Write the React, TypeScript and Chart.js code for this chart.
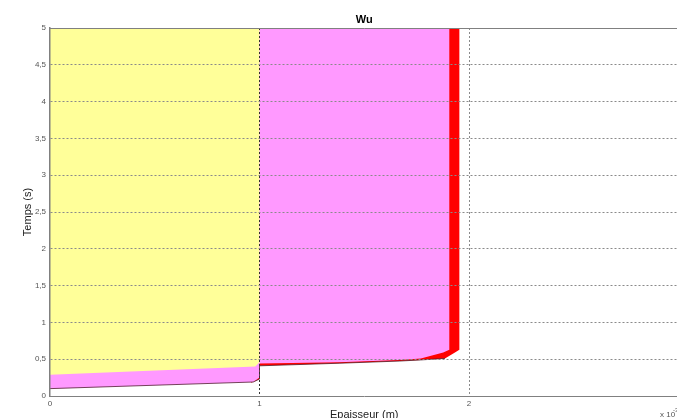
import React, { useEffect, useRef } from 'react';
import { Chart, registerables } from 'chart.js';

Chart.register(...registerables);

// ---- Data (x in 1e-3 m, y in s) ----
const yellowX = [0, 0, 0.98, 1.0, 1.0];
const yellowY = [5, 0.29, 0.40, 0.46, 5];

const pinkX = [0, 0, 0.97, 1.0, 1.0, 1.38, 1.67, 1.77, 1.877, 1.906, 1.906];
const pinkY = [5, 0.10, 0.19, 0.25, 0.44, 0.46, 0.49, 0.51, 0.59, 0.63, 5];

const redX = [0.96, 1.0, 1.0, 1.38, 1.67, 1.77, 1.885, 1.933, 1.954, 1.954, 0.96];
const redY = [0.18, 0.23, 0.41, 0.445, 0.475, 0.49, 0.51, 0.59, 0.63, 5, 5];

const edgeX = [0, 0.97, 1.0, 1.0, 1.38, 1.67, 1.77, 1.885];
const edgeY = [0.10, 0.19, 0.23, 0.41, 0.445, 0.475, 0.49, 0.51];

const xTickValues = [0, 1, 2, 3];
const xTickLabels = ['0', '1', '2', ''];
const yTickValues = [0, 0.5, 1, 1.5, 2, 2.5, 3, 3.5, 4, 4.5, 5];
const yTickLabels = ['0', '0,5', '1', '1,5', '2', '2,5', '3', '3,5', '4', '4,5', '5'];

const titleText = 'Wu';
const xTitle = 'Epaisseur (m)';
const yTitle = 'Temps (s)';
const expBase = 'x 10';
const expPower = '-3';

const FONT = "'Liberation Sans', Arial, Helvetica, sans-serif";

function pts(xs: number[], ys: number[]) {
  return xs.map((x, i) => ({ x, y: ys[i] }));
}

const expPlugin = {
  id: 'expLabel',
  afterDraw(chart: any) {
    const ctx = chart.ctx;
    ctx.save();
    ctx.fillStyle = '#555';
    ctx.textBaseline = 'middle';
    ctx.textAlign = 'left';
    ctx.font = `8px ${FONT}`;
    ctx.fillText(expBase, 660, 415);
    ctx.font = `6px ${FONT}`;
    ctx.fillText(expPower, 673, 410);
    ctx.restore();
  },
};

export default function App() {
  const ref = useRef<HTMLCanvasElement>(null);

  useEffect(() => {
    const canvas = ref.current!;
    const gridColor = '#8a8a8a';
    const axisColor = '#808080';
    const chart = new Chart(canvas, {
      type: 'line',
      data: {
        datasets: [
          {
            label: 'edge',
            data: pts(edgeX, edgeY),
            borderColor: 'rgba(70,20,35,0.75)',
            borderWidth: 1,
            pointRadius: 0,
            fill: false,
            tension: 0,
          },
          {
            label: 'yellow',
            data: pts(yellowX, yellowY),
            backgroundColor: '#FFFF99',
            borderColor: 'transparent',
            borderWidth: 0,
            pointRadius: 0,
            fill: 'shape',
            tension: 0,
          },
          {
            label: 'pink',
            data: pts(pinkX, pinkY),
            backgroundColor: '#FF99FF',
            borderColor: 'transparent',
            borderWidth: 0,
            pointRadius: 0,
            fill: 'shape',
            tension: 0,
          },
          {
            label: 'red',
            data: pts(redX, redY),
            backgroundColor: '#FF0000',
            borderColor: 'transparent',
            borderWidth: 0,
            pointRadius: 0,
            fill: 'shape',
            tension: 0,
          },
        ],
      } as any,
      options: {
        animation: false,
        responsive: false,
        maintainAspectRatio: false,
        events: [],
        layout: { padding: { left: 0, top: 0, bottom: 0, right: 21.5 } },
        font: { family: FONT },
        plugins: {
          legend: { display: false },
          tooltip: { enabled: false },
          title: {
            display: true,
            text: titleText,
            fullSize: false,
            color: '#000',
            font: { family: FONT, size: 11, weight: 'bold' },
            padding: { top: 13.4, bottom: 1.4 },
          },
        },
        scales: {
          x: {
            type: 'linear',
            position: 'bottom',
            min: 0,
            max: 3,
            afterBuildTicks: (scale: any) => {
              scale.ticks = xTickValues.map((v) => ({ value: v }));
            },
            afterFit: (scale: any) => {
              scale.height = 36;
            },
            ticks: {
              callback: (v: any) => {
                const i = xTickValues.indexOf(Number(v));
                return i >= 0 ? xTickLabels[i] : '';
              },
              color: '#555',
              font: { family: FONT, size: 8 },
              padding: 3,
              maxRotation: 0,
              autoSkip: false,
            },
            grid: {
              display: true,
              color: (c: any) => {
                if (!c.tick) return gridColor;
                if (c.tick.value === 0) return 'transparent';
                return c.tick.value === 1 ? '#333' : gridColor;
              },
              lineWidth: 1,
              drawTicks: false,
              z: 1,
            },
            border: { display: true, color: axisColor, width: 1, dash: [2, 2], z: 1 },
            title: {
              display: true,
              text: xTitle,
              color: '#222',
              font: { family: FONT, size: 11 },
              padding: { top: 0, bottom: 10.6 },
            },
          },
          x2: {
            type: 'linear',
            position: 'top',
            display: true,
            min: 0,
            max: 3,
            afterFit: (scale: any) => {
              scale.height = 0;
            },
            ticks: { display: false },
            grid: { display: false, drawTicks: false },
            border: { display: true, color: axisColor, width: 1, z: 1 },
          },
          y: {
            type: 'linear',
            position: 'left',
            min: 0,
            max: 5,
            afterBuildTicks: (scale: any) => {
              scale.ticks = yTickValues.map((v) => ({ value: v }));
            },
            afterFit: (scale: any) => {
              scale.width = 50;
            },
            ticks: {
              callback: (v: any) => {
                const i = yTickValues.indexOf(Number(v));
                return i >= 0 ? yTickLabels[i] : '';
              },
              color: '#555',
              font: { family: FONT, size: 8 },
              padding: 4,
              autoSkip: false,
            },
            grid: {
              display: true,
              color: (c: any) =>
                c.tick && (c.tick.value === 0 || c.tick.value === 5) ? 'transparent' : gridColor,
              lineWidth: 1,
              drawTicks: false,
              z: 1,
            },
            border: { display: true, color: axisColor, width: 1.5, dash: [2, 2], z: 1 },
            title: {
              display: true,
              text: yTitle,
              color: '#222',
              font: { family: FONT, size: 11 },
              padding: { top: 21.4, bottom: 0 },
            },
          },
        },
      } as any,
      plugins: [expPlugin],
    });
    return () => chart.destroy();
  }, []);

  return (
    <div
      style={{
        position: 'fixed',
        left: 0,
        top: 0,
        width: 677,
        height: 418,
        overflow: 'hidden',
        background: '#fff',
      }}
    >
      <canvas ref={ref} width={700} height={432} style={{ display: 'block', width: 700, height: 432 }} />
    </div>
  );
}
